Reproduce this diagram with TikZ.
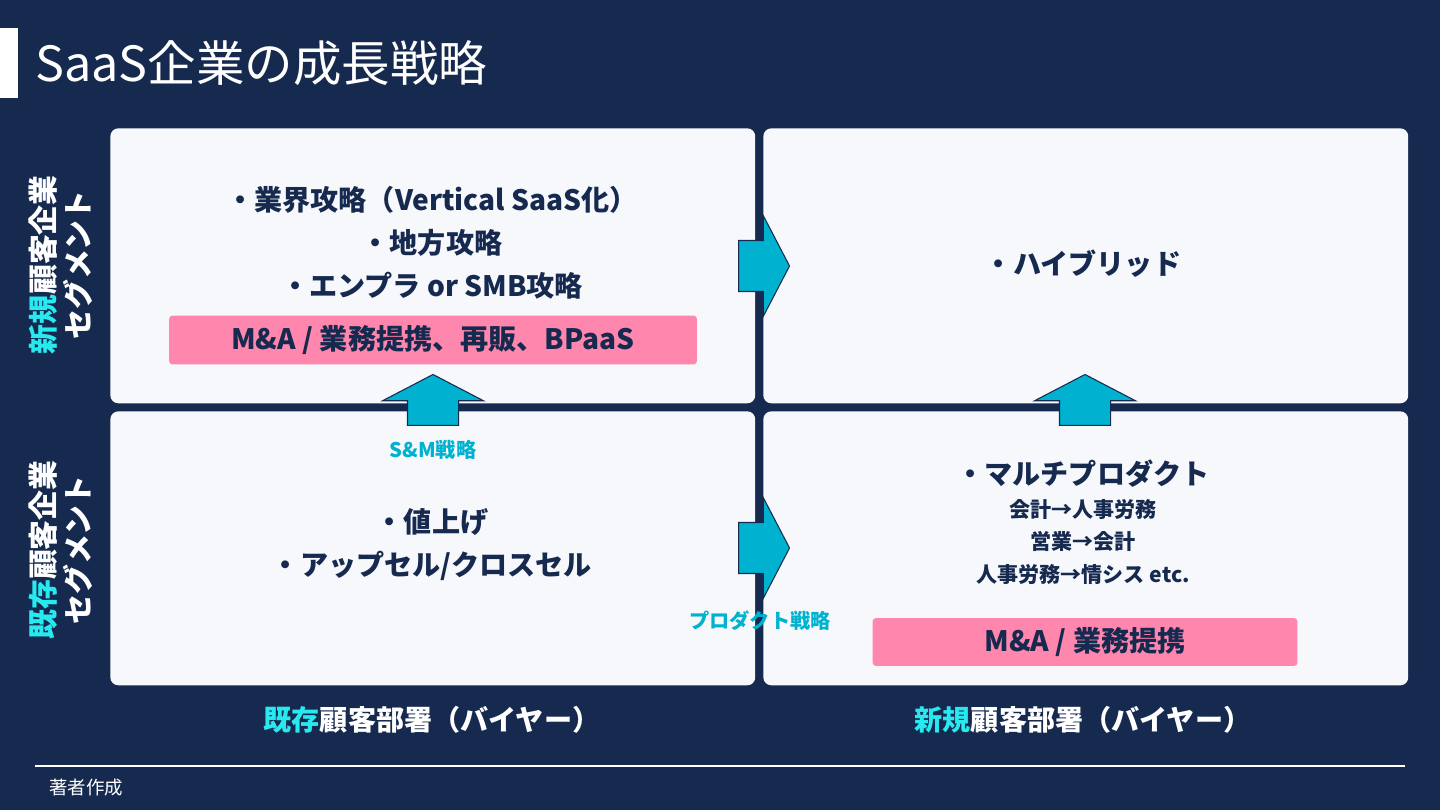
\documentclass[tikz,border=0pt]{standalone}
\usepackage{fontspec}
\setmainfont{Noto Sans CJK JP}
\usetikzlibrary{positioning,shapes.arrows}
\definecolor{slidebg}{RGB}{22,41,79}
\definecolor{cellfill}{RGB}{247,248,252}
\definecolor{ink}{RGB}{22,41,79}
\definecolor{arrowcyan}{RGB}{0,178,208}
\definecolor{brightcyan}{RGB}{40,232,240}
\definecolor{tagpink}{RGB}{255,134,172}
\tikzset{
  cell/.style={rectangle,rounded corners=4.5pt,fill=cellfill,anchor=north west,minimum width=12.9cm,minimum height=5.5cm,inner sep=0pt},
  item/.style={font=\bfseries\fontsize{16}{24.4}\selectfont,text=ink,align=center,inner sep=0pt},
  subitem/.style={font=\bfseries\fontsize{12}{18.7}\selectfont,text=ink,align=center,inner sep=0pt},
  tag/.style={rectangle,rounded corners=2pt,fill=tagpink,text=ink,font=\bfseries\fontsize{16}{19}\selectfont,inner sep=0pt},
  strat/.style={text=arrowcyan,font=\bfseries\fontsize{11.5}{14}\selectfont,inner sep=0pt},
  push/.style={single arrow,draw=ink,fill=arrowcyan,line width=0.6pt,minimum height=1.02cm,single arrow head extend=0.5cm,single arrow tip angle=125,inner xsep=0pt,inner ysep=0.5cm},
  axis/.style={text=white,font=\bfseries\fontsize{16}{19}\selectfont,inner sep=0pt},
  side/.style={text=white,font=\bfseries\fontsize{17}{20}\selectfont,rotate=90,align=center,inner sep=0pt}
}
\begin{document}
\begin{tikzpicture}[x=0.02cm,y=-0.02cm]
  \fill[slidebg] (0,0) rectangle (1440,810);
  \useasboundingbox (0,0) rectangle (1440,810);
  % title
  \fill[white] (0,28) rectangle (18,98);
  \node[anchor=west,text=white,font=\fontsize{27.6}{31}\selectfont,inner sep=0pt] (title) at (35,63) {SaaS企業の成長戦略};
  % four cells
  \node[cell] (expand) at (110,128) {};
  \node[cell] (hybrid) at (763,128) {};
  \node[cell,minimum height=5.48cm] (core) at (110,411) {};
  \node[cell,minimum height=5.48cm] (multi) at (763,411) {};
  % cell texts
  \node[item] (expandtxt) at (432,243) {・業界攻略（Vertical SaaS化）\\・地方攻略\\・エンプラ or SMB攻略};
  \node[tag,minimum width=10.56cm,minimum height=0.98cm] (expandtag) at (433,340) {M\&A / 業務提携、再販、BPaaS};
  \node[item] (hybridtxt) at (1083,264) {・ハイブリッド};
  \node[item] (coretxt) at (432,545) {・値上げ\\・アップセル/クロスセル};
  \node[item] (multitxt) at (1083,474) {・マルチプロダクト};
  \node[subitem,below=6pt of multitxt] (multisub) {会計→人事労務\\営業→会計\\人事労務→情シス etc.};
  \node[tag,minimum width=8.5cm,minimum height=0.96cm] (multitag) at (1085,642) {M\&A / 業務提携};
  % block arrows
  \node[push,anchor=tail] (toright) at (738,266) {};
  \node[push,anchor=tail] (toright2) at (738,548) {};
  \node[push,rotate=90,anchor=tail] (toup) at (433,426) {};
  \node[push,rotate=90,anchor=tail] (toup2) at (1085,426) {};
  \node[strat] (sm) at (433,450) {S\&M戦略};
  \node[strat] (prod) at (760,621) {プロダクト戦略};
  % axes
  \node[side] (newseg) at (61,265) {{\color{brightcyan}新規}顧客企業\\セグメント};
  \node[side] (oldseg) at (61,550) {{\color{brightcyan}既存}顧客企業\\セグメント};
  \node[axis] (olddept) at (432,720) {{\color{brightcyan}既存}顧客部署（バイヤー）};
  \node[axis] (newdept) at (1083,720) {{\color{brightcyan}新規}顧客部署（バイヤー）};
  % footer
  \draw[white,line width=1.1pt] (35,766) -- (1405,766);
  \node[anchor=west,text=white,font=\fontsize{10.5}{12}\selectfont,inner sep=0pt] (source) at (49,788) {著者作成};
\end{tikzpicture}
\end{document}
